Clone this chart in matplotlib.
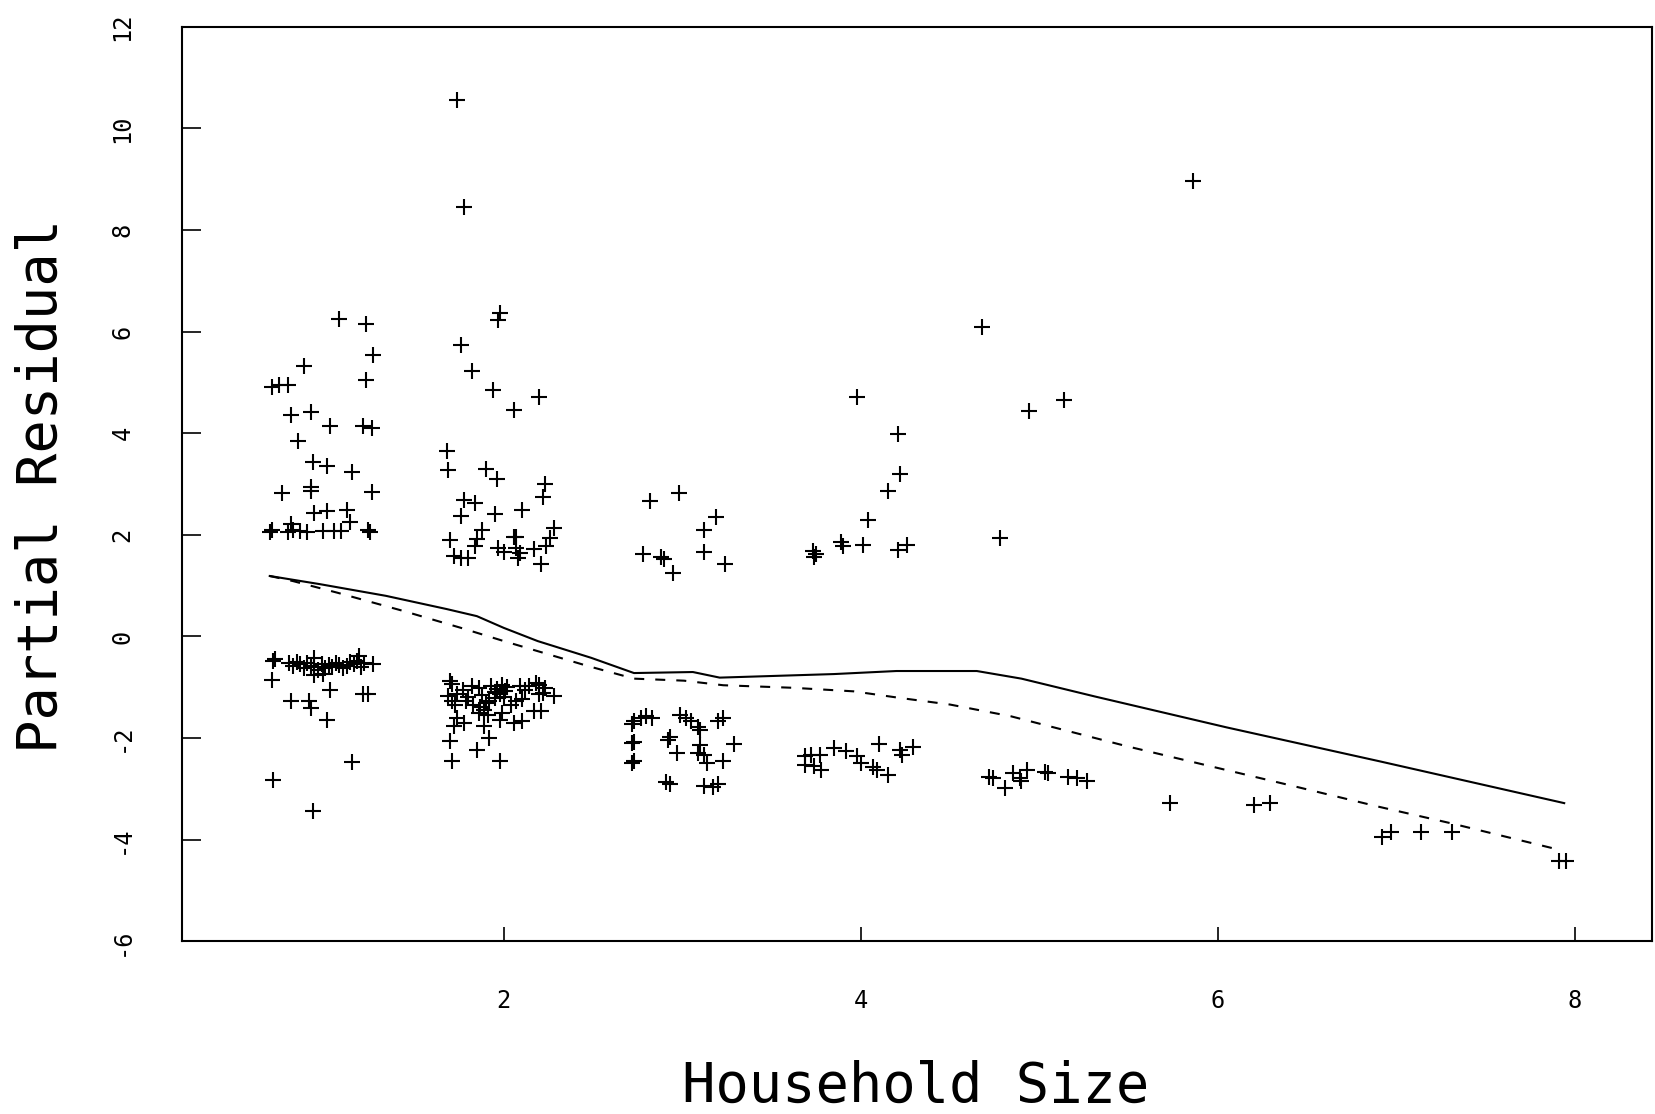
import numpy as np
import matplotlib
matplotlib.use("Agg")
import matplotlib.pyplot as plt

# partial residuals, grouped by household size
size1_x = [1.08, 1.23, 1.27, 0.88, 1.23, 0.70, 0.74, 0.79, 0.81, 0.92, 1.03, 1.21, 1.26, 0.85,
           0.93, 1.01, 1.15, 0.76, 0.92, 0.92, 1.26, 0.94, 1.01, 1.12, 1.14, 0.81,
           0.69, 0.70, 0.79, 0.82, 0.86, 0.90, 0.99, 1.05, 1.09, 1.24, 1.25,
           0.71, 0.72, 0.70,
           0.80, 0.82, 0.84, 0.86, 0.88, 0.90, 0.92, 0.94, 0.96, 0.98, 1.00, 1.02, 1.04, 1.06,
           1.08, 1.10, 1.12, 1.14, 1.16, 1.18, 1.20, 1.22, 1.27,
           0.94, 1.19, 0.94, 0.99, 1.03, 1.21, 1.24, 0.81, 0.91, 0.92, 1.01, 1.15, 0.71, 0.93]
size1_y = [6.24, 6.15, 5.53, 5.32, 5.04, 4.91, 4.94, 4.94, 4.36, 4.42, 4.15, 4.15, 4.10, 3.84,
           3.43, 3.36, 3.23, 2.82, 2.95, 2.87, 2.84, 2.43, 2.46, 2.49, 2.26, 2.21,
           2.06, 2.10, 2.06, 2.10, 2.08, 2.05, 2.08, 2.08, 2.08, 2.10, 2.06,
           -0.49, -0.45, -0.85,
           -0.52, -0.58, -0.50, -0.55, -0.62, -0.53, -0.58, -0.60, -0.66, -0.55, -0.62, -0.57, -0.60, -0.52,
           -0.56, -0.63, -0.58, -0.50, -0.55, -0.48, -0.60, -0.52, -0.55,
           -0.42, -0.39, -0.75, -0.73, -1.05, -1.14, -1.14, -1.27, -1.27, -1.41, -1.64, -2.48, -2.83, -3.43]

size2_x = [1.74, 1.78, 1.98, 1.97, 1.76, 1.82, 1.94, 2.06, 2.20, 1.68, 1.69, 1.90, 1.96, 2.23,
           2.22, 1.78, 1.84, 1.76, 1.95, 2.10, 1.88, 2.28, 1.70, 1.85, 1.84, 2.06, 2.07, 2.26,
           2.24, 1.97, 2.00, 2.07, 2.09, 2.08, 2.17, 1.72, 1.76, 1.80, 2.21,
           1.70, 1.71, 1.82, 1.86, 1.93, 1.96, 1.99, 2.01, 1.98, 1.95, 2.09, 2.14, 2.18, 2.20,
           2.23, 2.22, 2.20, 2.28, 1.69, 1.71, 1.74, 1.73, 1.79, 1.83, 1.87, 1.89, 1.86, 1.91,
           1.92, 1.99, 1.98, 2.04, 2.07, 2.10, 2.06, 2.10, 2.17, 2.21, 1.74, 1.78, 1.72, 1.89,
           1.92, 1.70, 1.85, 1.71, 1.98, 1.95, 2.00, 1.90, 2.02, 1.88, 2.12, 1.77, 1.80]
size2_y = [10.56, 8.46, 6.36, 6.23, 5.73, 5.23, 4.86, 4.45, 4.71, 3.65, 3.28, 3.30, 3.09, 3.00,
           2.75, 2.69, 2.63, 2.38, 2.41, 2.49, 2.09, 2.13, 1.90, 1.92, 1.79, 1.95, 1.95, 1.94,
           1.79, 1.75, 1.67, 1.75, 1.65, 1.55, 1.72, 1.59, 1.55, 1.55, 1.42,
           -0.88, -0.93, -0.98, -1.01, -0.98, -1.04, -0.95, -1.08, -1.14, -1.21, -0.98, -0.98, -0.91, -0.95,
           -1.01, -1.11, -1.14, -1.18, -1.18, -1.27, -1.14, -1.34, -1.27, -1.34, -1.38, -1.44, -1.51, -1.54,
           -1.27, -1.51, -1.64, -1.34, -1.27, -1.24, -1.70, -1.67, -1.47, -1.47, -1.60, -1.70, -1.77, -1.77,
           -2.00, -2.06, -2.23, -2.46, -2.46, -1.10, -1.20, -1.30, -1.00, -1.15, -1.05, -1.05, -1.20]

size3_x = [2.82, 2.98, 3.19, 3.12, 2.78, 2.88, 2.90, 2.95, 3.12, 3.24,
           2.73, 2.72, 2.77, 2.80, 2.83, 2.72, 2.73, 2.72, 2.73, 2.99, 3.02, 3.05, 3.09, 3.10,
           2.93, 2.92, 3.10, 2.97, 3.09, 3.12, 3.14, 3.23, 3.29, 3.20, 3.23, 2.91, 2.93, 3.12,
           3.17, 3.20]
size3_y = [2.67, 2.82, 2.36, 2.10, 1.63, 1.57, 1.52, 1.24, 1.67, 1.42,
           -1.67, -1.72, -1.60, -1.57, -1.60, -2.10, -2.08, -2.49, -2.45, -1.54, -1.60, -1.66, -1.79, -1.84,
           -1.97, -2.03, -2.13, -2.29, -2.29, -2.34, -2.49, -2.46, -2.11, -1.67, -1.60, -2.87, -2.90, -2.94,
           -2.97, -2.90]

size4_x = [3.98, 4.21, 4.22, 4.15, 4.04, 3.73, 3.74, 3.75, 3.89, 3.90, 4.01, 4.21, 4.26, 4.78,
           3.69, 3.72, 3.77, 3.69, 3.74, 3.78, 3.85, 3.92, 3.98, 4.00, 4.07, 4.09, 4.15, 4.10,
           4.22, 4.23, 4.29]
size4_y = [4.71, 3.98, 3.20, 2.86, 2.29, 1.69, 1.57, 1.62, 1.85, 1.78, 1.80, 1.70, 1.80, 1.94,
           -2.36, -2.33, -2.33, -2.52, -2.54, -2.62, -2.20, -2.26, -2.36, -2.49, -2.56, -2.62, -2.72, -2.12,
           -2.23, -2.33, -2.18]

size5_x = [4.68, 4.94, 5.14, 5.86, 4.72, 4.74, 4.81, 4.85, 4.89, 4.90, 4.93, 5.03, 5.05, 5.16, 5.21, 5.27]
size5_y = [6.10, 4.44, 4.65, 8.96, -2.76, -2.79, -2.99, -2.69, -2.79, -2.85, -2.62, -2.66, -2.69, -2.76, -2.78, -2.85]

size6to8_x = [5.73, 6.20, 6.29, 6.92, 6.97, 7.14, 7.31, 7.91, 7.95]
size6to8_y = [-3.28, -3.31, -3.28, -3.94, -3.84, -3.84, -3.84, -4.42, -4.42]

# smooth curve (solid) and fitted curve (dashed)
smooth_x = [0.69, 0.97, 1.34, 1.68, 1.85, 2.00, 2.19, 2.49, 2.73, 3.06, 3.21, 3.85, 4.20, 4.65,
            4.90, 5.31, 6.05, 6.91, 7.94]
smooth_y = [1.19, 1.03, 0.80, 0.54, 0.40, 0.17, -0.09, -0.42, -0.72, -0.70, -0.81, -0.74, -0.68, -0.68,
            -0.83, -1.18, -1.79, -2.46, -3.28]
fit_x = [0.69, 0.82, 1.07, 1.44, 1.76, 2.00, 2.47, 2.73, 3.01, 3.23, 3.62, 3.96, 4.22, 4.50,
         4.84, 5.49, 6.43, 6.90, 7.31, 7.89]
fit_y = [1.19, 1.09, 0.86, 0.50, 0.17, -0.09, -0.58, -0.83, -0.87, -0.96, -1.01, -1.08, -1.21, -1.34,
         -1.57, -2.16, -2.95, -3.35, -3.68, -4.18]

xticks = [2, 4, 6, 8]
yticks = [-6, -4, -2, 0, 2, 4, 6, 8, 10, 12]

all_x = size1_x + size2_x + size3_x + size4_x + size5_x + size6to8_x
all_y = size1_y + size2_y + size3_y + size4_y + size5_y + size6to8_y

plt.rcParams['font.family'] = ['DejaVu Sans Mono', 'DejaVu Sans']

fig = plt.figure(figsize=(16.55, 11.14), dpi=100)
ax = fig.add_axes([0.1097, 0.155, 0.8883, 0.821])

ax.plot(all_x, all_y, linestyle='none', marker='+', markersize=11, markeredgewidth=1.5, color='black')
ax.plot(smooth_x, smooth_y, color='black', linewidth=1.5)
ax.plot(fit_x, fit_y, color='black', linewidth=1.5, dashes=(4.8, 5.3))

ax.set_xlim(0.196, 8.43)
ax.set_ylim(-6, 12)
ax.set_xticks(xticks)
ax.set_yticks(yticks)
ax.set_xticklabels([str(t) for t in xticks], fontsize=17)
ax.set_yticklabels([str(t) for t in yticks], fontsize=17, rotation=90, va='center')
ax.tick_params(axis='x', direction='in', length=10, width=1.2, pad=34)
ax.tick_params(axis='y', direction='in', length=14, width=1.2, pad=34)
for s in ax.spines.values():
    s.set_linewidth(1.5)

# axis titles placed where the scan has them
fig.text(0.0254, 0.564, "Partial Residual", rotation=90, ha='center', va='center', fontsize=40)
fig.text(0.553, 0.024, "Household Size", ha='center', va='center', fontsize=40)

fig.savefig("out.png", dpi=100, facecolor='white')
